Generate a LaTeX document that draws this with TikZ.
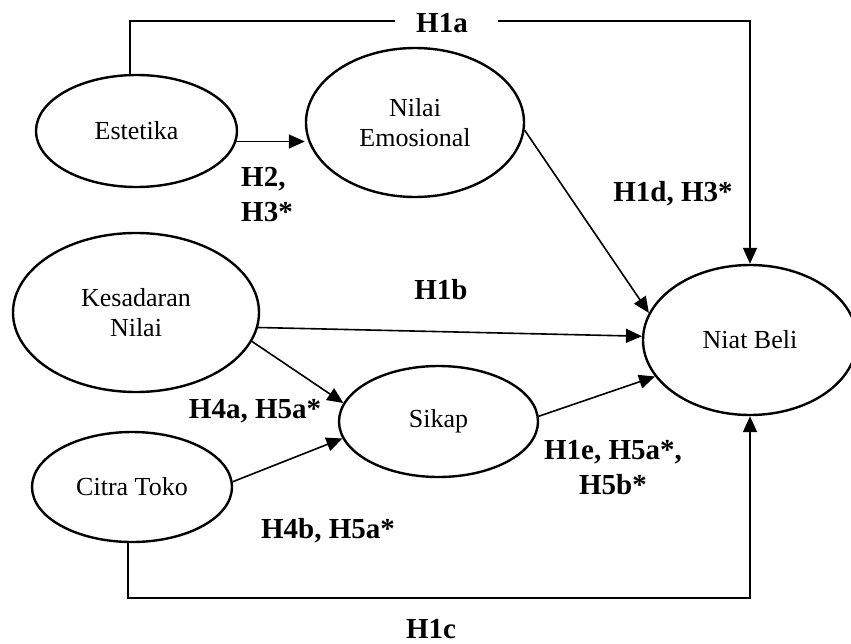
\documentclass[tikz,border=0pt]{standalone}
\usepackage{fontspec}
\setmainfont{Liberation Serif}
\usetikzlibrary{shapes.geometric,arrows.meta,calc}
\begin{document}
\begin{tikzpicture}[x=1pt,y=-1pt,
  var/.style={ellipse,draw,line width=2.4pt,inner sep=0pt,align=center,font=\fontsize{26}{30}\selectfont},
  hyp/.style={font=\fontsize{29}{35}\bfseries\selectfont,inner sep=0pt},
  arr/.style={line width=1.6pt,-{Triangle[length=16pt,width=14pt]}},
  ln/.style={line width=1.6pt}]
\useasboundingbox (0,0) rectangle (851,643);
% variables
\node[var,minimum width=201pt,minimum height=112pt] (est) at (136.5,131) {Estetika};
\node[var,minimum width=218pt,minimum height=149pt] (emo) at (415,122.5) {Nilai\\Emosional};
\node[var,minimum width=246pt,minimum height=159pt] (kes) at (136,312.5) {Kesadaran\\Nilai};
\node[var,minimum width=199pt,minimum height=111pt] (sik) at (438.5,421.5) {Sikap};
\node[var,minimum width=200pt,minimum height=110pt] (cit) at (132,487) {Citra Toko};
\node[var,minimum width=214pt,minimum height=150pt] (niat) at (750,340) {Niat Beli};
% helper coordinates
\coordinate (top) at (0,21);
\coordinate (a1) at (395,21);
\coordinate (a2) at (498,21);
\coordinate (bot) at (0,598);
% connectors
\draw[ln] ([xshift=-6.5pt]est.north) -- ([xshift=-6.5pt]est.north |- top) -- (a1);
\draw[arr] (a2) -| (niat.north);
\draw[arr] (est.-6) -- (est.-6 -| emo.west);
\draw[arr] (emo.-4) -- (niat.165);
\draw[arr] (kes.-7) -- (niat.178);
\draw[arr] (kes.-14) -- (sik.169);
\draw[arr] (cit.3) -- (sik.190);
\draw[arr] (sik.3) -- (niat.201);
\draw[arr] ([xshift=-4pt]cit.south) -- ([xshift=-4pt]cit.south |- bot) -| (niat.south);
% labels
\node[hyp,anchor=base] (l1a) at (442,32) {H1a};
\node[hyp,anchor=base west,align=left] (l2) at (241,221) {H2,\\H3*};
\node[hyp,anchor=base] (l1d) at (673,201) {H1d, H3*};
\node[hyp,anchor=base] (l1b) at (441,299) {H1b};
\node[hyp,anchor=base] (l4a) at (255,418) {H4a, H5a*};
\node[hyp,anchor=base,align=center] (l1e) at (613,494) {H1e, H5a*,\\H5b*};
\node[hyp,anchor=base] (l4b) at (328,538) {H4b, H5a*};
\node[hyp,anchor=base] (l1c) at (431,638) {H1c};
\end{tikzpicture}
\end{document}
